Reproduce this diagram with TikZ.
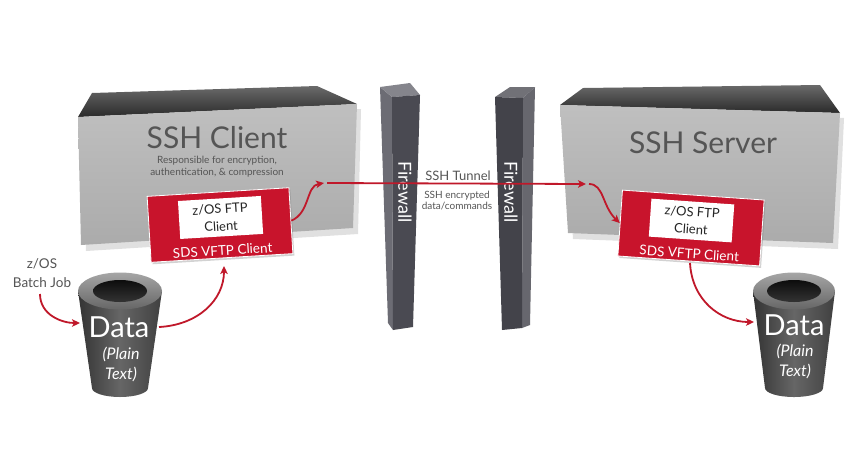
\documentclass[tikz,border=0pt]{standalone}
\usepackage{fontspec}
\setmainfont{Lato}
\usetikzlibrary{arrows.meta,shadows,calc}
\definecolor{vred}{HTML}{C8142C}
\definecolor{arrred}{HTML}{C0182A}
\definecolor{boxfront}{HTML}{B4B4B4}
\definecolor{boxtop}{HTML}{2A2A2A}
\definecolor{titlegray}{HTML}{555555}
\definecolor{fwfront}{HTML}{4A4A52}
\definecolor{fwside}{HTML}{6C6C74}
\definecolor{fwtop}{HTML}{85858C}
\tikzset{
  redbox/.style={fill=vred, draw=white, line width=0.8pt, minimum width=142pt, minimum height=66pt, inner sep=0pt,
     drop shadow={shadow xshift=1.5pt, shadow yshift=-2pt, opacity=0.35}},
  whitebox/.style={fill=white, minimum width=83pt, minimum height=38pt, inner sep=0pt, align=center,
     font=\fontsize{13}{17.5}\selectfont, text=black!85},
  redlabel/.style={text=white, inner sep=1pt, font=\fontsize{13.5}{15}\selectfont},
  title/.style={text=titlegray, font=\fontsize{30}{32}\selectfont},
  fwtext/.style={text=white, font=\fontsize{18}{20}\selectfont, rotate=-90},
  conn/.style={draw=arrred, line width=1.8pt, -{Stealth[length=8pt,width=7.5pt,inset=2pt]}},
  datatext/.style={text=white, font=\fontsize{29}{29}\selectfont},
  plaintext/.style={text=white, font=\itshape\fontsize{16}{20}\selectfont, align=center},
  smalltext/.style={text=titlegray, font=\fontsize{13}{15}\selectfont, align=center}
}
\newcommand{\datacyl}[3]{%
  \shade[left color=black!80, right color=black!75, middle color=black!60]
    (#1-#2,291) -- (#1-#3,388) arc[start angle=180, end angle=360, x radius=#3, y radius=-9] -- (#1+#2,291) -- cycle;
  \shade[top color=black!35, bottom color=black!60] (#1,291) ellipse[x radius=#2, y radius=18.5];
  \shade[top color=black!95, bottom color=black!80] (#1,291) ellipse[x radius=27, y radius=11];
}
\begin{document}
\begin{tikzpicture}[x=1pt,y=-1pt]
\useasboundingbox (0,0) rectangle (850,475);
\fill[white] (0,0) rectangle (850,475);

% ---------- SSH Client box ----------
\fill[black!12] (83,122) -- (361,109) -- (358,234) -- (86,251) -- cycle;
\shade[top color=boxtop!70, bottom color=boxtop] (78,117) -- (92,93) -- (317,86) -- (357,104) -- cycle;
\shade[top color=boxfront!85!white, bottom color=boxfront!95!black] (78,117) -- (357,104) -- (353,228) -- (81,245) -- cycle;
\node[title] (clienttitle) at (217,138) {SSH Client};
\node[smalltext, font=\fontsize{10}{12}\selectfont] (clientsub) at (217,167) {Responsible for encryption,\\authentication, \& compression};

% ---------- SSH Server box ----------
\fill[black!12] (565,110) -- (844,118) -- (838,249) -- (573,239) -- cycle;
\shade[top color=boxtop!70, bottom color=boxtop] (560,105) -- (583,88) -- (820,85) -- (840,113) -- cycle;
\shade[top color=boxfront!85!white, bottom color=boxfront!95!black] (560,105) -- (840,113) -- (833,243) -- (568,233) -- cycle;
\node[title] (servertitle) at (703,143) {SSH Server};

% ---------- Firewalls ----------
\fill[fwside] (380,87) -- (392,97) -- (393,330) -- (388,323) -- cycle;
\fill[fwtop] (380,87) -- (410,83) -- (420,95) -- (392,97) -- cycle;
\fill[fwfront] (392,97) -- (420,95) -- (413,327) -- (393,330) -- cycle;
\node[fwtext] (fw1) at (405,192) {Firewall};

\fill[fwtop!85!black] (495,97) -- (510,87) -- (535,87) -- (523,98) -- cycle;
\fill[fwside!95!black] (523,98) -- (535,87) -- (530,325) -- (522,328) -- cycle;
\fill[fwfront!90!black] (495,97) -- (523,98) -- (522,328) -- (502,330) -- cycle;
\node[fwtext] (fw2) at (511,192) {Firewall};

% ---------- Red client boxes ----------
\begin{scope}[shift={(220,225)}, rotate=3.5, transform shape]
  \node[redbox] (cred) at (0,0) {};
  \node[whitebox] (cftp) at (1,-7.5) {z/OS FTP\\Client};
  \node[redlabel] (clab) at (1,25.5) {SDS VFTP Client};
\end{scope}
\begin{scope}[shift={(691,228)}, rotate=-4, transform shape]
  \node[redbox] (sred) at (0,0) {};
  \node[whitebox] (sftp) at (0,-7.5) {z/OS FTP\\Client};
  \node[redlabel] (slab) at (0,25.5) {SDS VFTP Client};
\end{scope}

% ---------- Tunnel ----------
\coordinate (tunA) at (327,183);
\coordinate (tunB) at (586,184);
\coordinate (cup) at (324,183);
\coordinate (sdown) at (589,184);
\node[smalltext] (tunnel) at (458,176) {SSH Tunnel};
\node[smalltext, font=\fontsize{10}{11}\selectfont] (enc) at (457,201) {SSH encrypted\\data/commands};

\draw[conn] (tunA) -- (tunB);
\draw[conn] (cred.east) .. controls (310,213) and (306,186) .. (cup);
\draw[conn] (sdown) .. controls (604,184) and (602,206) .. (sred.west);

% ---------- Data cylinders ----------
\datacyl{120}{42}{28}
\datacyl{794}{41}{29}
\coordinate (d1W) at (80,323);
\coordinate (d1E) at (159,327);
\coordinate (d2W) at (754,322);
\node[datatext] (data1) at (119,327) {Data};
\node[plaintext] (plain1) at (121,364) {(Plain\\Text)};
\node[datatext] (data2) at (794,325) {Data};
\node[plaintext] (plain2) at (795,361) {(Plain\\Text)};

% ---------- Batch job ----------
\node[smalltext, font=\fontsize{13.5}{19}\selectfont] (batch) at (42,273) {z/OS\\Batch Job};
\coordinate (bstart) at (40,294);
\draw[conn] (bstart) .. controls (40,315) and (62,323) .. (d1W);
\coordinate (cbot) at (224,266);
\draw[conn] (d1E) .. controls (198,325) and (224,300) .. (cbot);
\coordinate (sbot) at (690,263);
\draw[conn] (sbot) .. controls (692,300) and (720,322) .. (d2W);
\end{tikzpicture}
\end{document}
